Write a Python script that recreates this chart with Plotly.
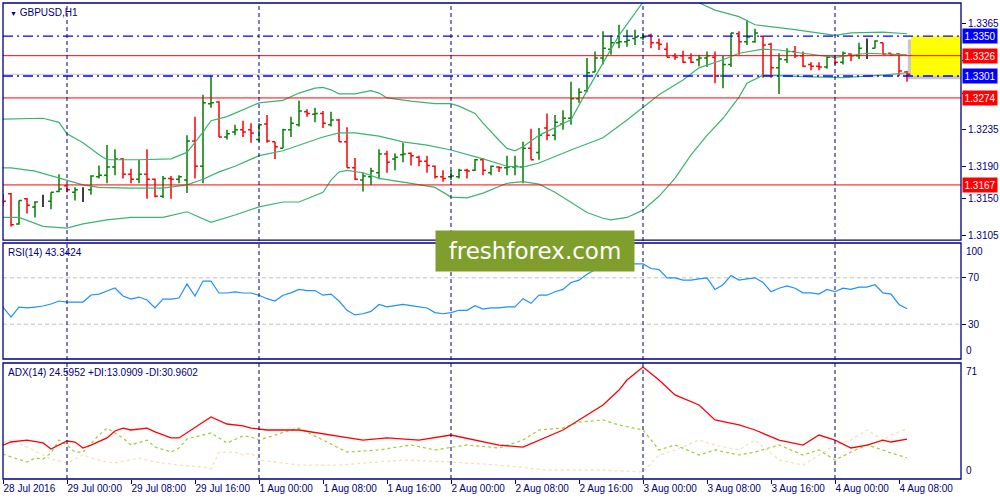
import plotly.graph_objects as go

# ---------------- data ----------------
symbol = "GBPUSD,H1"
tick_labels = ["28 Jul 2016", "29 Jul 00:00", "29 Jul 08:00", "29 Jul 16:00",
               "1 Aug 00:00", "1 Aug 08:00", "1 Aug 16:00", "2 Aug 00:00",
               "2 Aug 08:00", "2 Aug 16:00", "3 Aug 00:00", "3 Aug 08:00",
               "3 Aug 16:00", "4 Aug 00:00", "4 Aug 08:00"]
bars_between_labels = 8  # H1 bars

opens = [1.3155, 1.3156, 1.3119, 1.3150, 1.3140, 1.3148, 1.3147, 1.3159, 1.3166, 1.3158,
         1.3161, 1.3161, 1.3177, 1.3179, 1.3189, 1.3199, 1.3180, 1.3174, 1.3180, 1.3174,
         1.3153, 1.3175, 1.3174, 1.3173, 1.3221, 1.3190, 1.3267, 1.3269, 1.3226, 1.3232,
         1.3235, 1.3235, 1.3223, 1.3242, 1.3220, 1.3212, 1.3235, 1.3241, 1.3257, 1.3254,
         1.3255, 1.3241, 1.3247, 1.3220, 1.3188, 1.3173, 1.3177, 1.3182, 1.3205, 1.3199,
         1.3204, 1.3206, 1.3201, 1.3196, 1.3190, 1.3177, 1.3177, 1.3177, 1.3185, 1.3185,
         1.3198, 1.3182, 1.3189, 1.3188, 1.3189, 1.3189, 1.3212, 1.3207, 1.3237, 1.3228,
         1.3242, 1.3249, 1.3273, 1.3283, 1.3306, 1.3323, 1.3334, 1.3342, 1.3343, 1.3347,
         1.3348, 1.3351, 1.3342, 1.3334, 1.3326, 1.3326, 1.3323, 1.3321, 1.3323, 1.3324,
         1.3301, 1.3315, 1.3353, 1.3343, 1.3343, 1.3350, 1.3340, 1.3311, 1.3321, 1.3331,
         1.3326, 1.3315, 1.3313, 1.3312, 1.3324, 1.3318, 1.3328, 1.3326, 1.3334, 1.3335,
         1.3342, 1.3329, 1.3328, 1.3306]
highs = [1.3156, 1.3157, 1.3148, 1.3151, 1.3147, 1.3155, 1.3158, 1.3180, 1.3167, 1.3164,
         1.3164, 1.3179, 1.3191, 1.3216, 1.3211, 1.3200, 1.3187, 1.3198, 1.3211, 1.3175,
         1.3178, 1.3178, 1.3179, 1.3228, 1.3251, 1.3278, 1.3301, 1.3270, 1.3235, 1.3241,
         1.3246, 1.3243, 1.3243, 1.3253, 1.3220, 1.3236, 1.3251, 1.3271, 1.3260, 1.3262,
         1.3258, 1.3257, 1.3248, 1.3238, 1.3200, 1.3182, 1.3188, 1.3211, 1.3209, 1.3206,
         1.3219, 1.3207, 1.3203, 1.3203, 1.3191, 1.3185, 1.3185, 1.3187, 1.3187, 1.3199,
         1.3200, 1.3191, 1.3190, 1.3203, 1.3203, 1.3220, 1.3236, 1.3237, 1.3255, 1.3253,
         1.3259, 1.3294, 1.3286, 1.3323, 1.3331, 1.3356, 1.3351, 1.3364, 1.3358, 1.3358,
         1.3354, 1.3353, 1.3347, 1.3342, 1.3329, 1.3332, 1.3329, 1.3327, 1.3331, 1.3331,
         1.3326, 1.3354, 1.3356, 1.3370, 1.3359, 1.3350, 1.3342, 1.3329, 1.3335, 1.3338,
         1.3331, 1.3318, 1.3318, 1.3326, 1.3326, 1.3331, 1.3329, 1.3342, 1.3347, 1.3345,
         1.3342, 1.3329, 1.3329, 1.3307]
lows = [1.3141, 1.3116, 1.3118, 1.3132, 1.3127, 1.3140, 1.3137, 1.3158, 1.3158, 1.3148,
        1.3146, 1.3155, 1.3175, 1.3169, 1.3179, 1.3175, 1.3169, 1.3169, 1.3150, 1.3152,
        1.3151, 1.3150, 1.3169, 1.3157, 1.3175, 1.3169, 1.3262, 1.3226, 1.3223, 1.3228,
        1.3226, 1.3219, 1.3220, 1.3219, 1.3199, 1.3212, 1.3226, 1.3239, 1.3251, 1.3244,
        1.3237, 1.3239, 1.3220, 1.3188, 1.3173, 1.3159, 1.3167, 1.3174, 1.3182, 1.3185,
        1.3195, 1.3191, 1.3190, 1.3182, 1.3175, 1.3171, 1.3173, 1.3175, 1.3175, 1.3184,
        1.3179, 1.3179, 1.3183, 1.3179, 1.3179, 1.3169, 1.3198, 1.3198, 1.3222, 1.3222,
        1.3235, 1.3241, 1.3268, 1.3281, 1.3306, 1.3315, 1.3327, 1.3335, 1.3337, 1.3339,
        1.3345, 1.3335, 1.3333, 1.3324, 1.3321, 1.3317, 1.3317, 1.3313, 1.3312, 1.3292,
        1.3286, 1.3312, 1.3327, 1.3339, 1.3342, 1.3299, 1.3299, 1.3279, 1.3317, 1.3323,
        1.3312, 1.3308, 1.3308, 1.3310, 1.3315, 1.3315, 1.3319, 1.3322, 1.3322, 1.3335,
        1.3327, 1.3326, 1.3301, 1.3294]
closes = [1.3147, 1.3118, 1.3148, 1.3142, 1.3146, 1.3148, 1.3158, 1.3162, 1.3161, 1.3161,
          1.3161, 1.3178, 1.3179, 1.3189, 1.3199, 1.3180, 1.3174, 1.3180, 1.3174, 1.3153,
          1.3175, 1.3174, 1.3177, 1.3221, 1.3190, 1.3268, 1.3268, 1.3226, 1.3230, 1.3235,
          1.3232, 1.3231, 1.3241, 1.3221, 1.3214, 1.3235, 1.3243, 1.3258, 1.3255, 1.3255,
          1.3243, 1.3247, 1.3220, 1.3188, 1.3174, 1.3178, 1.3184, 1.3205, 1.3195, 1.3201,
          1.3205, 1.3203, 1.3196, 1.3191, 1.3177, 1.3175, 1.3178, 1.3185, 1.3184, 1.3198,
          1.3185, 1.3190, 1.3188, 1.3189, 1.3190, 1.3212, 1.3198, 1.3228, 1.3228, 1.3244,
          1.3249, 1.3273, 1.3281, 1.3305, 1.3323, 1.3335, 1.3342, 1.3343, 1.3345, 1.3349,
          1.3349, 1.3342, 1.3340, 1.3324, 1.3324, 1.3318, 1.3318, 1.3323, 1.3326, 1.3301,
          1.3315, 1.3354, 1.3343, 1.3349, 1.3354, 1.3339, 1.3311, 1.3322, 1.3331, 1.3326,
          1.3313, 1.3313, 1.3312, 1.3324, 1.3318, 1.3329, 1.3326, 1.3335, 1.3334, 1.3344,
          1.3328, 1.3327, 1.3307, 1.3303]

# Bollinger bands read at sample bars
bb_upper_bars = [0, 5, 7, 8, 10, 12, 13, 17, 21, 23, 25, 26, 28, 32, 35, 37, 39, 40, 41, 42,
                 44, 46, 47, 48, 51, 54, 56, 57, 59, 60, 62, 63, 64, 65, 67, 69, 71, 73, 75, 77,
                 80, 82, 85, 87, 89, 92, 94, 99, 104, 106, 110, 113]
bb_upper = [1.3248, 1.3249, 1.3244, 1.3230, 1.3219, 1.3204, 1.3198, 1.3198, 1.3199, 1.3207,
            1.3232, 1.3246, 1.3251, 1.3268, 1.3271, 1.3280, 1.3286, 1.3287, 1.3284, 1.3279,
            1.3279, 1.3283, 1.3280, 1.3274, 1.3270, 1.3267, 1.3267, 1.3264, 1.3255, 1.3243,
            1.3222, 1.3212, 1.3209, 1.3214, 1.3228, 1.3237, 1.3247, 1.3283, 1.3317, 1.3351,
            1.3392, 1.3413, 1.3413, 1.3391, 1.3382, 1.3374, 1.3364, 1.3358, 1.3351, 1.3354,
            1.3355, 1.3353]
bb_middle_bars = [0, 1, 4, 8, 10, 12, 16, 20, 23, 25, 27, 29, 32, 35, 37, 40, 42, 44, 47, 50,
                  53, 56, 60, 63, 65, 67, 71, 75, 78, 82, 85, 87, 90, 92, 95, 97, 100, 104, 108, 113]
bb_middle = [1.3188, 1.3188, 1.3184, 1.3173, 1.3167, 1.3164, 1.3163, 1.3163, 1.3167, 1.3174,
             1.3183, 1.3190, 1.3203, 1.3209, 1.3216, 1.3226, 1.3231, 1.3231, 1.3227, 1.3220,
             1.3216, 1.3210, 1.3199, 1.3190, 1.3189, 1.3194, 1.3210, 1.3225, 1.3247, 1.3278,
             1.3296, 1.3311, 1.3321, 1.3329, 1.3334, 1.3333, 1.3329, 1.3324, 1.3329, 1.3327]
bb_lower_bars = [0, 2, 5, 8, 10, 13, 16, 20, 23, 26, 29, 32, 35, 37, 40, 41, 42, 43, 45, 47,
                 51, 54, 56, 58, 60, 63, 65, 67, 69, 71, 73, 75, 76, 78, 80, 82, 84, 86, 88, 90,
                 92, 93, 95, 101, 105, 110, 113]
bb_lower = [1.3127, 1.3127, 1.3116, 1.3114, 1.3119, 1.3124, 1.3127, 1.3127, 1.3134, 1.3121,
            1.3130, 1.3140, 1.3146, 1.3146, 1.3158, 1.3173, 1.3183, 1.3185, 1.3182, 1.3175,
            1.3169, 1.3164, 1.3152, 1.3151, 1.3157, 1.3169, 1.3171, 1.3168, 1.3158, 1.3145,
            1.3133, 1.3126, 1.3124, 1.3127, 1.3136, 1.3153, 1.3175, 1.3204, 1.3228, 1.3249,
            1.3275, 1.3292, 1.3302, 1.3300, 1.3299, 1.3302, 1.3305]

# horizontal levels
blue_levels = [1.3350, 1.3301]
red_levels = [1.3326, 1.3274, 1.3167]
price_ticks = [1.3105, 1.3150, 1.3190, 1.3235, 1.3280, 1.3320, 1.3365]

# RSI(14), one value per bar
rsi = [44.8, 36.2, 44.8, 44.0, 44.8, 45.7, 47.4, 50.0, 49.1, 49.1,
       49.1, 55.2, 56.0, 58.6, 61.2, 54.3, 51.7, 53.4, 50.9, 44.0,
       51.7, 51.7, 52.6, 64.7, 54.3, 67.2, 67.2, 56.9, 56.9, 57.8,
       56.9, 56.9, 55.0, 52.0, 50.0, 55.0, 57.0, 60.0, 59.0, 59.0,
       55.0, 56.0, 50.0, 42.0, 38.0, 39.0, 41.0, 47.0, 45.0, 46.0,
       47.0, 46.0, 45.0, 44.0, 40.0, 39.0, 40.0, 42.0, 42.0, 46.0,
       43.0, 44.0, 44.0, 45.0, 45.0, 52.0, 48.0, 55.0, 55.0, 58.0,
       60.0, 66.0, 68.0, 73.0, 77.0, 80.0, 81.0, 81.0, 82.0, 82.0,
       82.0, 78.0, 77.0, 70.0, 70.0, 68.0, 68.0, 69.0, 70.0, 60.0,
       64.0, 72.0, 68.0, 69.0, 70.0, 66.0, 58.0, 61.0, 63.0, 61.0,
       57.0, 57.0, 56.0, 60.0, 58.0, 61.0, 60.0, 62.0, 62.0, 64.0,
       57.0, 56.0, 47.0, 43.3424]
rsi_levels = [70, 30]

# ADX(14) read at sample bars
adx_bars = [0, 1, 3, 5, 6, 8, 9, 10, 11, 13, 14, 15, 16, 18, 19, 21, 22, 24, 26, 28,
            30, 31, 33, 37, 41, 45, 48, 52, 56, 59, 62, 65, 67, 70, 72, 75, 77, 78, 80, 82,
            84, 87, 89, 92, 94, 97, 100, 102, 104, 106, 108, 110, 111, 113]
adx = [20.9, 22.8, 24.0, 22.2, 18.5, 23.4, 22.8, 19.1, 20.9, 25.3, 29.6, 31.4, 30.2, 31.4,
       29.0, 25.3, 25.3, 32.0, 38.2, 33.9, 32.7, 31.4, 30.2, 30.2, 27.1, 24.0, 25.3, 24.0,
       27.1, 24.0, 20.9, 19.7, 24.0, 30.2, 36.4, 45.6, 54.8, 61.0, 69.0, 61.0, 51.8, 45.6,
       36.4, 33.3, 30.2, 24.0, 20.9, 27.1, 24.0, 19.1, 20.9, 24.0, 22.8, 24.5952]
pdi_bars = [0, 1, 3, 4, 5, 6, 7, 8, 9, 10, 12, 13, 15, 16, 18, 19, 21, 22, 23, 26,
            28, 30, 31, 32, 36, 37, 40, 43, 47, 51, 54, 58, 62, 65, 67, 70, 72, 75, 77, 80,
            82, 84, 87, 89, 92, 94, 97, 100, 102, 104, 106, 108, 110, 111, 113]
pdi = [15.4, 13.6, 10.5, 12.9, 12.3, 16.0, 24.0, 21.0, 16.6, 16.6, 27.1, 31.4, 25.3, 21.0,
       24.0, 19.7, 16.6, 19.1, 24.7, 28.4, 22.2, 26.5, 25.9, 24.0, 30.2, 31.4, 24.0, 16.6,
       17.9, 21.0, 17.9, 21.0, 19.1, 24.0, 30.2, 31.4, 35.1, 36.4, 33.3, 30.2, 17.9, 21.0,
       14.8, 17.9, 14.8, 16.6, 21.0, 14.8, 17.9, 11.7, 16.6, 21.0, 17.9, 16.0, 13.0909]
mdi_bars = [0, 1, 3, 5, 6, 8, 10, 11, 13, 14, 16, 17, 19, 20, 22, 25, 26, 27, 29, 30,
            31, 32, 37, 42, 50, 56, 62, 68, 75, 80, 82, 84, 87, 89, 92, 94, 97, 100, 102, 104,
            106, 108, 110, 111, 113]
mdi = [22.8, 24.0, 19.7, 14.8, 12.3, 9.9, 14.8, 12.9, 10.5, 9.9, 11.7, 12.9, 10.5, 9.9,
       8.6, 7.4, 6.2, 16.6, 16.6, 14.8, 16.0, 11.7, 8.6, 8.6, 11.7, 10.5, 8.6, 5.5, 5.5,
       4.3, 14.8, 17.9, 24.0, 20.9, 17.9, 24.0, 11.7, 8.6, 14.8, 20.9, 24.0, 30.2, 24.0,
       27.1, 30.9602]

# ---------------- styling ----------------
NAVY = "#000080"
GREEN_BAR = "#008000"
RED = "#ff0000"
BLUE = "#0000ff"
BB = "#3cb371"
FONT = "Liberation Sans"

n = len(opens)
bars = list(range(n))
x_max = 119.75
tick_bars = [k * bars_between_labels for k in range(len(tick_labels))]
day_starts = [b for b, t in zip(tick_bars, tick_labels) if t.endswith("00:00")]
covered = [v for v in price_ticks
           if any(abs(v - lv) < 0.0008 for lv in red_levels + blue_levels)]

fig = go.Figure()


def add_ohlc(idx, color):
    if not idx:
        return
    gaps = [b - a for a, b in zip(idx[:-1], idx[1:])] or [1]
    tw = min(0.5, 0.36 / min(gaps))
    fig.add_trace(go.Ohlc(
        x=idx,
        open=[opens[i] for i in idx], high=[highs[i] for i in idx],
        low=[lows[i] for i in idx], close=[closes[i] for i in idx],
        increasing=dict(line=dict(color=color, width=1.5)),
        decreasing=dict(line=dict(color=color, width=1.5)),
        tickwidth=tw, xaxis="x", yaxis="y", showlegend=False, hoverinfo="skip"))


up = [i for i in bars if closes[i] > opens[i]]
down = [i for i in bars if closes[i] < opens[i]]
doji = [i for i in bars if closes[i] == opens[i]]

# Bollinger bands
for bx, by in [(bb_upper_bars, bb_upper), (bb_middle_bars, bb_middle), (bb_lower_bars, bb_lower)]:
    fig.add_trace(go.Scatter(x=bx, y=by, mode="lines", line=dict(color=BB, width=1.2),
                             xaxis="x", yaxis="y", showlegend=False, hoverinfo="skip"))

add_ohlc(up, GREEN_BAR)
add_ohlc(down, RED)
add_ohlc(doji, "#000000")

# RSI
fig.add_trace(go.Scatter(x=bars, y=rsi, mode="lines", line=dict(color="#1e90ff", width=1.2),
                         xaxis="x2", yaxis="y2", showlegend=False, hoverinfo="skip"))
# ADX
fig.add_trace(go.Scatter(x=mdi_bars, y=mdi, mode="lines",
                         line=dict(color="#f5deb3", width=1.2, dash="3px,3px"),
                         xaxis="x3", yaxis="y3", showlegend=False, hoverinfo="skip"))
fig.add_trace(go.Scatter(x=pdi_bars, y=pdi, mode="lines",
                         line=dict(color="#9acd32", width=1.2, dash="3px,3px"),
                         xaxis="x3", yaxis="y3", showlegend=False, hoverinfo="skip"))
fig.add_trace(go.Scatter(x=adx_bars, y=adx, mode="lines", line=dict(color=RED, width=1.3),
                         xaxis="x3", yaxis="y3", showlegend=False, hoverinfo="skip"))

shapes = []
# yellow zone between the blue levels, beyond the last bar (with shadow)
shapes.append(dict(type="rect", xref="x", yref="y", x0=n - 0.5 - 0.4, x1=x_max,
                   y0=min(blue_levels) - 0.0004, y1=max(blue_levels) - 0.0004,
                   fillcolor="rgba(0,0,0,0.22)", line=dict(width=0), layer="above"))
shapes.append(dict(type="rect", xref="x", yref="y", x0=n - 0.5, x1=x_max,
                   y0=min(blue_levels), y1=max(blue_levels),
                   fillcolor="#ffff00", line=dict(width=0), layer="above"))
# bid line
shapes.append(dict(type="line", xref="x domain", yref="y", x0=0, x1=1, y0=closes[-1], y1=closes[-1],
                   line=dict(color="#c8c8c8", width=1), layer="below"))
for lv in red_levels:
    shapes.append(dict(type="line", xref="x domain", yref="y", x0=0, x1=1, y0=lv, y1=lv,
                       line=dict(color=RED, width=1), layer="above"))
for lv in blue_levels:
    shapes.append(dict(type="line", xref="x domain", yref="y", x0=0, x1=1, y0=lv, y1=lv,
                       line=dict(color=BLUE, width=1.3, dash="10px,4px,2px,4px"), layer="above"))
for lv in rsi_levels:
    shapes.append(dict(type="line", xref="x2 domain", yref="y2", x0=0, x1=1, y0=lv, y1=lv,
                       line=dict(color="#c0c0c0", width=1, dash="4px,3px"), layer="below"))
for d in day_starts:
    shapes.append(dict(type="line", xref="x", yref="paper", x0=d, x1=d, y0=0, y1=1,
                       line=dict(color=NAVY, width=1, dash="4px,3px"), layer="above"))
for xa, ya in [("x", "y"), ("x2", "y2"), ("x3", "y3")]:
    shapes.append(dict(type="rect", xref=xa + " domain", yref=ya + " domain", x0=0, x1=1, y0=0, y1=1,
                       line=dict(color=NAVY, width=1.3), fillcolor="rgba(0,0,0,0)", layer="above"))

annotations = []
for lv, col in [(v, RED) for v in red_levels] + [(v, BLUE) for v in blue_levels]:
    annotations.append(dict(xref="paper", yref="y", x=1, y=lv, xanchor="left", yanchor="middle",
                            xshift=1, text=f"{lv:.4f}", showarrow=False, bgcolor=col,
                            font=dict(family=FONT, size=10, color="white"), borderpad=1.5))
# fixed scale labels of the indicator windows
for ya, top, bottom in [("y2", 100, 0), ("y3", 71.5, 0)]:
    annotations.append(dict(xref="paper", yref=ya, x=1, y=top, xanchor="left", yanchor="top",
                            xshift=3, yshift=-1, text=f"{int(top)}", showarrow=False,
                            font=dict(family=FONT, size=10, color=NAVY)))
    annotations.append(dict(xref="paper", yref=ya, x=1, y=bottom, xanchor="left", yanchor="bottom",
                            xshift=3, yshift=1, text=f"{int(bottom)}", showarrow=False,
                            font=dict(family=FONT, size=10, color=NAVY)))
annotations.append(dict(xref="paper", yref="paper", x=0, y=1, xanchor="left", yanchor="top",
                        xshift=5, yshift=-2, showarrow=False,
                        text="<span style='font-size:7px'>▼</span> " + symbol,
                        font=dict(family=FONT, size=10, color=NAVY)))
annotations.append(dict(xref="paper", yref="y2 domain", x=0, y=1, xanchor="left", yanchor="top",
                        xshift=3, yshift=-2, showarrow=False,
                        text=f"RSI(14) {rsi[-1]:.4f}",
                        font=dict(family=FONT, size=10, color=NAVY)))
annotations.append(dict(xref="paper", yref="y3 domain", x=0, y=1, xanchor="left", yanchor="top",
                        xshift=3, yshift=-2, showarrow=False,
                        text=f"ADX(14) {adx[-1]:.4f} +DI:{pdi[-1]:.4f} -DI:{mdi[-1]:.4f}",
                        font=dict(family=FONT, size=10, color=NAVY)))
# watermark
annotations.append(dict(xref="paper", yref="paper", x=0.5553, y=0.479, xanchor="center", yanchor="middle",
                        showarrow=False, text="freshforex.com", bgcolor="#7f9e2c", width=196, height=38,
                        font=dict(family="DejaVu Sans", size=23, color="white")))

axis_common = dict(showgrid=False, zeroline=False, showline=False, automargin=False)
fig.update_layout(
    width=1000, height=500,
    margin=dict(l=3, r=39, t=3, b=21, autoexpand=False),
    paper_bgcolor="white", plot_bgcolor="white",
    showlegend=False,
    xaxis=dict(domain=[0, 1], anchor="y", range=[0, x_max], showticklabels=False,
               rangeslider=dict(visible=False), **axis_common),
    xaxis2=dict(domain=[0, 1], anchor="y2", matches="x", showticklabels=False, **axis_common),
    xaxis3=dict(domain=[0, 1], anchor="y3", matches="x", tickvals=tick_bars, ticktext=tick_labels,
                ticks="outside", ticklen=4, tickcolor=NAVY, ticklabelposition="outside right",
                tickangle=0, tickfont=dict(family=FONT, size=10, color=NAVY), **axis_common),
    yaxis=dict(domain=[0.502, 1], anchor="x", range=[1.30992, 1.33908], side="right",
               tickvals=price_ticks,
               ticktext=["" if v in covered else f"{v:.4f}" for v in price_ticks],
               ticks="outside", ticklen=4, tickcolor=NAVY,
               tickfont=dict(family=FONT, size=10, color=NAVY), **axis_common),
    yaxis2=dict(domain=[0.2521, 0.4958], anchor="x2", range=[0, 100], side="right",
                tickvals=rsi_levels, ticks="outside", ticklen=4, tickcolor=NAVY,
                tickfont=dict(family=FONT, size=10, color=NAVY), **axis_common),
    yaxis3=dict(domain=[0, 0.2437], anchor="x3", range=[0, 71.5], side="right",
                tickvals=[], **axis_common),
    shapes=shapes,
    annotations=annotations,
)

fig.write_html("out.html", config={"displayModeBar": False},
               post_script="document.body.style.margin='0';")
